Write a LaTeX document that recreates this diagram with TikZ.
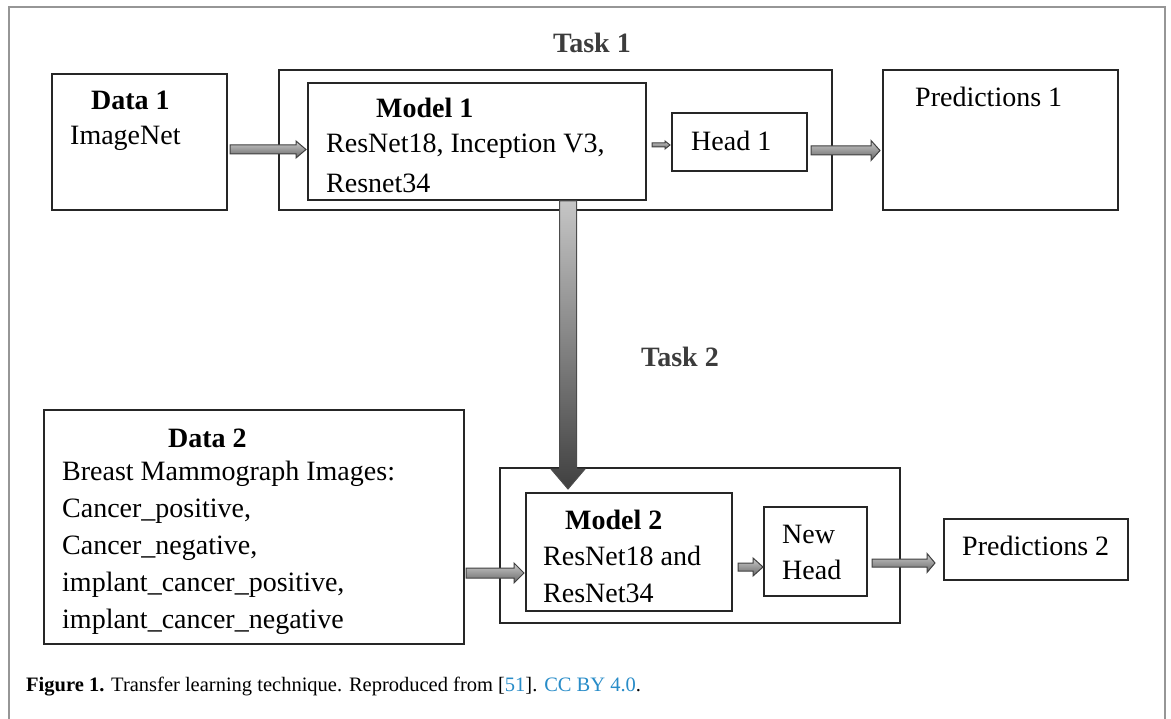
\documentclass[tikz,border=0pt]{standalone}
\usepackage{fontspec}
\setmainfont{Liberation Serif}
\definecolor{linkblue}{RGB}{40,140,200}
\definecolor{framegray}{RGB}{150,150,150}
\definecolor{taskgray}{RGB}{60,60,60}
\tikzset{
  box/.style={draw=black!85, line width=1.4pt, fill=white, inner sep=0pt},
  txt/.style={inner sep=0pt, font=\fontsize{28}{30}\selectfont, anchor=west},
  btxt/.style={txt, font=\fontsize{28}{30}\selectfont\bfseries},
  blk/.style={draw=black!75, line width=1pt, line join=miter, top color=gray!40, bottom color=black!60},
  vblk/.style={draw=black!70, line width=1pt, top color=gray!45, bottom color=black!75},
}
% horizontal block arrow: x1, x2, y, shaft half, head half, head length
\newcommand{\myhblk}[6]{%
  \path[blk] (#1,#3-#4) -- (#2-#6,#3-#4) -- (#2-#6,#3-#5) -- (#2,#3) -- (#2-#6,#3+#5) -- (#2-#6,#3+#4) -- (#1,#3+#4) -- cycle;}
\begin{document}
\begin{tikzpicture}[x=1pt,y=-1pt]
\useasboundingbox (0,0) rectangle (1171,719);
\fill[white] (0,0) rectangle (1171,719);
% outer frame
\draw[framegray, line width=2pt] (9,725) -- (9,7) -- (1165,7) -- (1165,725);

% top row
\node[box, minimum width=175pt, minimum height=136pt] (d1) at (139.5,142) {};
\node[box, minimum width=553pt, minimum height=140pt] (t1) at (555.5,140) {};
\node[box, minimum width=338pt, minimum height=117pt] (m1) at (477,141.5) {};
\node[box, minimum width=135pt, minimum height=58pt] (h1) at (739.5,142) {};
\node[box, minimum width=235pt, minimum height=140pt] (p1) at (1000.5,140) {};

\node[btxt, anchor=center, text=taskgray] (task1) at (592,43) {Task 1};
\node[btxt] (d1t) at (91,100) {Data 1};
\node[txt] (d1s) at (70,138) {ImageNet};
\node[btxt] (m1t) at (376,108) {Model 1};
\node[txt] (m1a) at (326,146) {ResNet18, Inception V3,};
\node[txt] (m1b) at (326,183) {Resnet34};
\node[txt] (h1t) at (691,141) {Head 1};
\node[txt] (p1t) at (915,97) {Predictions 1};

% bottom row
\node[box, minimum width=420pt, minimum height=234pt] (d2) at (254,527) {};
\node[box, minimum width=400pt, minimum height=155pt] (t2) at (700,545.5) {};
\node[box, minimum width=206pt, minimum height=118pt] (m2) at (629,552) {};
\node[box, minimum width=103pt, minimum height=89pt] (nh) at (815.5,551.5) {};
\node[box, minimum width=184pt, minimum height=61pt] (p2) at (1036,549.5) {};

\node[btxt, anchor=center, text=taskgray] (task2) at (680,357) {Task 2};
\node[btxt] (d2t) at (168,438) {Data 2};
\node[txt] (d2a) at (62,474) {Breast Mammograph Images:};
\node[txt] (d2b) at (62,511) {Cancer\_positive,};
\node[txt] (d2c) at (62,548) {Cancer\_negative,};
\node[txt] (d2d) at (62,585) {implant\_cancer\_positive,};
\node[txt] (d2e) at (62,622) {implant\_cancer\_negative};
\node[btxt] (m2t) at (565,520) {Model 2};
\node[txt] (m2a) at (543,556) {ResNet18 and};
\node[txt] (m2b) at (543,593) {ResNet34};
\node[txt] (nha) at (782,534) {New};
\node[txt] (nhb) at (782,570) {Head};
\node[txt] (p2t) at (962,546) {Predictions 2};

% block arrows
\myhblk{230}{306}{149.5}{4.5}{8.5}{10}
\myhblk{652}{670}{145}{2}{4}{5}
\myhblk{811}{880}{150.5}{4.5}{10}{9}
\myhblk{466}{524}{573}{5}{10}{10}
\myhblk{738}{763}{567}{4}{9}{10}
\myhblk{872}{935}{563}{4}{9.5}{8}
% vertical arrow
\path[vblk] (559.5,201) -- (576.5,201) -- (576.5,469) -- (585,469) -- (568,489) -- (551,469) -- (559.5,469) -- cycle;

% caption
\node[inner sep=0pt, anchor=west, font=\fontsize{20.5}{22}\selectfont] (cap) at (26,687)
  {\textbf{Figure 1.} Transfer learning technique. Reproduced from [\textcolor{linkblue}{51}]. \textcolor{linkblue}{CC BY 4.0}.};
\end{tikzpicture}
\end{document}
